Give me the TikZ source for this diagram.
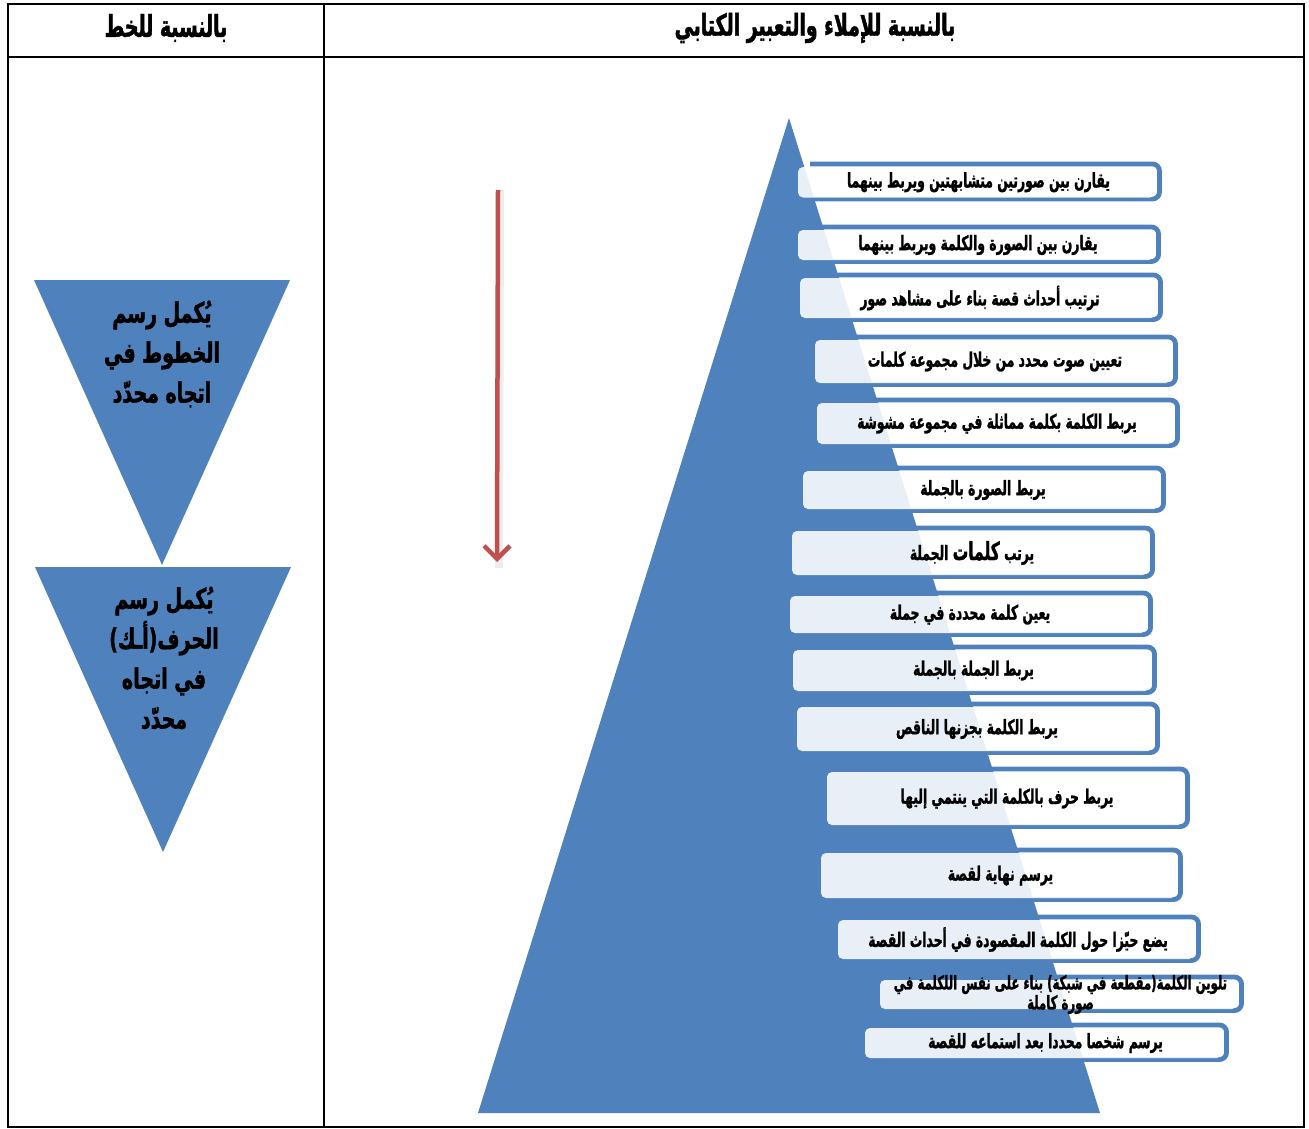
\documentclass[tikz,border=0pt]{standalone}
\usepackage{fontspec}
\usetikzlibrary{arrows.meta}
\TeXXeTstate=1
\newfontfamily\boxfont[Script=Arabic,FakeStretch=0.62,FakeBold=1.3]{DejaVu Sans}
\newfontfamily\funnelfont[Script=Arabic,FakeStretch=0.68,FakeBold=1.5]{DejaVu Sans}
\newfontfamily\headfont[Script=Arabic,FakeStretch=0.63,FakeBold=1.5]{DejaVu Sans}
\definecolor{tri}{HTML}{4F81BD}
\definecolor{arrowred}{HTML}{C0504D}

\tikzset{
  tabline/.style={line width=2pt, black},
  shapefill/.style={fill=tri, draw=none},
  boxframe/.style={draw=tri, line width=4.8pt, rounded corners=7pt},
  boxfill/.style={fill=white, fill opacity=0.88, rounded corners=5pt},
  boxtext/.style={font=\boxfont\bfseries\fontsize{19.9}{18}\selectfont, text=black, inner sep=0pt, align=center},
  boxtextsmall/.style={boxtext, font=\boxfont\bfseries\fontsize{18.9}{18}\selectfont},
  headtext/.style={font=\headfont\bfseries\fontsize{30}{28}\selectfont, text=black, inner sep=0pt},
  funneltext/.style={font=\funnelfont\bfseries\fontsize{28}{40}\selectfont, text=black, inner sep=0pt, align=center},
  redarrow/.style={draw=arrowred, line width=4.5pt, -{Straight Barb[length=13pt,width=26pt]}},
  arrowshade/.style={draw=black, line width=8pt, opacity=0.07},
}

% skill box: name, text style, fill left, top, frame right, bottom, text
\newcommand\skillbox[7]{%
  \draw[boxframe] ({#3+12},{#4-3}) -- ({#5-2.5},{#4-3}) -- ({#5-2.5},{#6+1.5}) -- ({#3+12},{#6+1.5});
  \fill[boxfill] (#3,#4) rectangle ({#5-7},#6);
  \node[#2] (#1) at ({(#3+#5-7)/2+2},{(#4+#6)/2}) {#7};
}

\begin{document}
\begin{tikzpicture}[x=1pt,y=-1pt]
\useasboundingbox (0,0) rectangle (1309,1129);

% table frame
\draw[tabline] (8,4) rectangle (1304,1127);
\draw[tabline] (8,57) -- (1304,57);
\draw[tabline] (324,4) -- (324,1127);

% column headings
\node[headtext] (headleft) at (166,28) {\beginR بالنسبة للخط\endR};
\node[headtext] (headright) at (815,28) {\beginR بالنسبة للإملاء والتعبير الكتابي\endR};

% handwriting column: two inverted triangles
\fill[shapefill] (34,280) -- (290,280) -- (162,565) -- cycle;
\fill[shapefill] (35,567) -- (291,567) -- (163,852) -- cycle;
\node[funneltext] (funnelA) at (162,354) {\beginR يُكمل رسم\endR\\ \beginR الخطوط في\endR\\ \beginR اتجاه محدّد\endR};
\node[funneltext] (funnelB) at (164,658) {\beginR يُكمل رسم\endR\\ \beginR الحرف(أـك)\endR\\ \beginR في اتجاه\endR\\ \beginR محدّد\endR};

% downward arrow
\coordinate (arrowtop) at (498,190);
\coordinate (arrowtip) at (497,562);
\draw[arrowshade] ([xshift=2pt]arrowtop) -- ([xshift=2pt,yshift=-6pt]arrowtip);
\draw[redarrow] (arrowtop) -- (arrowtip);

% pyramid
\fill[shapefill] (789,118) -- (1100,1113) -- (478,1113) -- cycle;

% skill boxes
\skillbox{s1}{boxtext}{798}{167}{1162}{197.5}{\beginR يقارن بين صورتين متشابهتين ويربط بينهما\endR}
\skillbox{s2}{boxtext}{798}{230}{1161}{260}{\beginR يقارن بين الصورة والكلمة ويربط بينهما\endR}
\skillbox{s3}{boxtext}{800}{278}{1163}{318}{\beginR ترتيب أحداث قصة بناء على مشاهد صور\endR}
\skillbox{s4}{boxtext}{815}{340}{1178}{383}{\beginR تعيين صوت محدد من خلال مجموعة كلمات\endR}
\skillbox{s5}{boxtext}{817}{403}{1180}{444}{\beginR يربط الكلمة بكلمة مماثلة في مجموعة مشوشة\endR}
\skillbox{s6}{boxtext}{803}{471}{1166}{509}{\beginR يربط الصورة بالجملة\endR}
\skillbox{s7}{boxtext}{792}{531}{1155}{575}{\beginR يرتب {\fontsize{25}{22}\selectfont كلمات} الجملة\endR}
\skillbox{s8}{boxtext}{790}{596}{1153}{633}{\beginR يعين كلمة محددة في جملة\endR}
\skillbox{s9}{boxtext}{793}{650}{1157}{691}{\beginR يربط الجملة بالجملة\endR}
\skillbox{s10}{boxtext}{797}{707}{1160}{751}{\beginR يربط الكلمة بجزنها الناقص\endR}
\skillbox{s11}{boxtext}{827}{772}{1190}{825}{\beginR يربط حرف بالكلمة التي ينتمي إليها\endR}
\skillbox{s12}{boxtext}{821}{853}{1183}{898}{\beginR يرسم نهاية لقصة\endR}
\skillbox{s13}{boxtext}{838}{920}{1201}{959}{\beginR يضع حيّزا حول الكلمة المقصودة في أحداث القصة\endR}
\skillbox{s14}{boxtextsmall}{880}{980}{1244}{1009}{\beginR تلوين الكلمة(مقطعة في شبكة) بناء على نفس اللكلمة في\endR\\ \beginR صورة كاملة\endR}
\skillbox{s15}{boxtext}{865}{1028}{1229}{1058}{\beginR يرسم شخصا محددا بعد استماعه للقصة\endR}

\end{tikzpicture}
\end{document}
